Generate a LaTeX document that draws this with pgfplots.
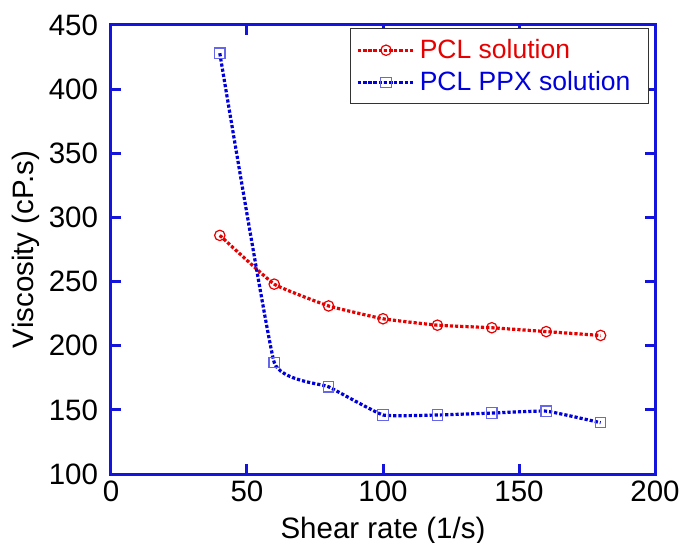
\documentclass[border=0pt]{standalone}
\usepackage{fontspec}
\setmainfont{Liberation Sans}
\usepackage{pgfplots}
\pgfplotsset{compat=1.18}
\definecolor{pclred}{RGB}{230,0,0}
\definecolor{ppxblue}{RGB}{0,0,220}
\definecolor{frameblue}{RGB}{20,20,220}
\begin{document}
\begin{tikzpicture}
\begin{axis}[
  name=ax,
  scale only axis,
  width=272bp, height=224.5bp,
  xmin=0, xmax=200, ymin=100, ymax=450,
  xtick={0,50,...,200}, ytick={100,150,...,450},
  axis line style={draw=frameblue, line width=1.5bp},
  tick style={draw=frameblue, line width=1.5bp},
  major tick length=5bp,
  tick align=inside,
  font=\fontsize{14.8}{17}\selectfont,
  /pgf/number format/assume math mode=true,
  xticklabel style={yshift=0bp},
  yticklabel style={xshift=-3bp},
  xlabel={Shear rate (1/s)}, ylabel={Viscosity (cP.s)},
  xlabel style={yshift=-1bp},
  ylabel style={yshift=-2.5bp},
  legend style={at={(0.989,0.993)}, anchor=north east, draw=black!80,
    line width=0.6bp, font=\fontsize{13.3}{15}\selectfont,
    cells={anchor=west}, inner xsep=3bp, inner ysep=3.2bp, row sep=1bp},
  legend cell align=left,
  legend image code/.code={\draw[mark repeat=2, mark phase=2, line width=1.4bp]
    plot coordinates {(0cm,0cm) (0.5cm,0cm) (1cm,0cm)};},
]
\addplot[color=pclred, line width=1.6bp, dash pattern=on 1.6bp off 1bp, smooth, tension=0.2,
  mark=o, mark size=2.6bp, mark options={solid, line width=0.6bp, draw=pclred, fill=none}]
  coordinates {(40,286)(60,248)(80,231)(100,221)(120,216)(140,214)(160,211)(180,208)};
\addlegendentry{\textcolor{pclred}{PCL solution}}
\addplot[color=ppxblue, line width=1.6bp, dash pattern=on 1.6bp off 1bp, smooth, tension=0.2,
  mark=square, mark size=2.6bp, mark options={solid, line width=0.6bp, draw=ppxblue!60, fill=none}]
  coordinates {(40,428)(60,187)(80,168)(100,146)(120,146)(140,147.5)(160,149)(180,140)};
\addlegendentry{\textcolor{ppxblue}{PCL PPX solution}\rule{4bp}{0pt}}
\end{axis}
\pgfresetboundingbox
\path ([xshift=-55.5bp,yshift=-34.5bp]ax.south west) rectangle ([xshift=12.5bp,yshift=12.5bp]ax.north east);
\end{tikzpicture}
\end{document}
